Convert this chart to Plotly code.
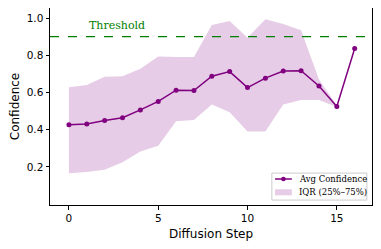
import plotly.graph_objects as go

steps = list(range(17))
avg_conf = [0.427, 0.43, 0.449, 0.464, 0.506, 0.552, 0.612, 0.610, 0.687, 0.712, 0.626, 0.677, 0.715, 0.717, 0.635, 0.525, 0.836]
iqr_upper = [0.628, 0.640, 0.685, 0.687, 0.728, 0.793, 0.790, 0.790, 0.962, 0.984, 0.894, 0.993, 0.968, 0.935, 0.670, 0.530, 0.840]
iqr_lower = [0.166, 0.172, 0.184, 0.225, 0.283, 0.313, 0.445, 0.452, 0.535, 0.494, 0.390, 0.390, 0.535, 0.560, 0.560, 0.522, 0.832]
threshold = 0.9
legend_labels = ["Avg Confidence", "IQR (25%–75%)"]

PURPLE = "purple"
BAND = "rgba(128,0,128,0.2)"

fig = go.Figure()

fig.add_trace(go.Scatter(
    x=steps + steps[::-1],
    y=iqr_upper + iqr_lower[::-1],
    fill="toself", fillcolor=BAND,
    line=dict(width=0), mode="lines",
    name=legend_labels[1], hoverinfo="skip", showlegend=False,
))

fig.add_trace(go.Scatter(
    x=steps, y=avg_conf,
    mode="lines+markers",
    line=dict(color=PURPLE, width=1.5),
    marker=dict(color=PURPLE, size=5),
    name=legend_labels[0], showlegend=False,
))

fig.add_shape(type="line", xref="paper", yref="y", x0=0, x1=1, y0=threshold, y1=threshold,
              line=dict(color="green", width=1.3, dash="dash"))
fig.add_annotation(x=1, y=threshold + 0.012, xref="x", yref="y", text="Threshold",
                   showarrow=False, xanchor="left", yanchor="bottom",
                   font=dict(family="DejaVu Serif", size=11, color="green"))

# compact legend box (drawn in paper coordinates)
fig.add_shape(type="rect", xref="paper", yref="paper", x0=0.689, x1=0.984, y0=0.025, y1=0.162,
              fillcolor="rgba(255,255,255,0.8)", line=dict(color="#cccccc", width=1))
fig.add_shape(type="line", xref="paper", yref="paper", x0=0.699, x1=0.751, y0=0.132, y1=0.132,
              line=dict(color=PURPLE, width=1.5))
fig.add_shape(type="circle", xref="paper", yref="paper", xsizemode="pixel", ysizemode="pixel",
              xanchor=0.725, yanchor=0.132, x0=-2.3, x1=2.3, y0=-2.3, y1=2.3,
              fillcolor=PURPLE, line=dict(width=0))
fig.add_shape(type="rect", xref="paper", yref="paper", x0=0.699, x1=0.751, y0=0.049, y1=0.080,
              fillcolor=BAND, line=dict(width=0))
for label, yy in zip(legend_labels, [0.132, 0.066]):
    fig.add_annotation(x=0.766, y=yy, xref="paper", yref="paper", text=label, showarrow=False,
                       xanchor="left", yanchor="middle",
                       font=dict(family="DejaVu Serif", size=8.5, color="black"))

# x-axis title as annotation for precise placement
fig.add_annotation(x=0.5, y=-0.148, xref="paper", yref="paper", text="Diffusion Step",
                   showarrow=False, xanchor="center", yanchor="middle",
                   font=dict(family="DejaVu Sans", size=12, color="black"))

axis_common = dict(showline=True, linecolor="black", linewidth=1, mirror=True,
                   ticks="outside", ticklen=3.5, tickcolor="black", showgrid=False,
                   zeroline=False, automargin=False,
                   tickfont=dict(family="DejaVu Sans", size=10.5, color="black"))

fig.update_xaxes(range=[-1.06, 16.97], tickvals=[0, 5, 10, 15], **axis_common)
fig.update_yaxes(range=[-0.005, 1.054], tickvals=[0.2, 0.4, 0.6, 0.8, 1.0], tickformat=".1f",
                 title=dict(text="Confidence", font=dict(family="DejaVu Sans", size=12, color="black")),
                 **axis_common)

# page body has an 8px margin, so the figure is sized/offset to compensate
fig.update_layout(
    width=373, height=241,
    margin=dict(l=42, r=9, t=0, b=44, autoexpand=False),
    plot_bgcolor="white", paper_bgcolor="white",
    showlegend=False,
)

fig.write_html("out.html")
